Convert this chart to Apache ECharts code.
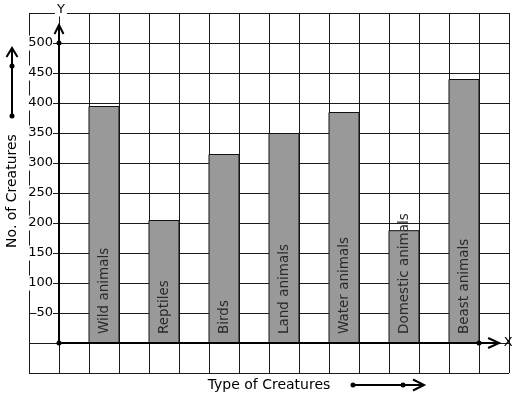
<!DOCTYPE html>
<html>
<head>
<meta charset="utf-8">
<script src="https://cdn.jsdelivr.net/npm/echarts@6/dist/echarts.min.js"></script>
<style>
html,body{margin:0;padding:0;background:#fff;}
#chart{width:517px;height:399px;}
</style>
</head>
<body>
<div id="chart"></div>
<script>
const categories = ['Wild animals', 'Reptiles', 'Birds', 'Land animals', 'Water animals', 'Domestic animals', 'Beast animals'];
const values = [395, 205, 315, 350, 385, 188, 440];
const yTickLabels = [50, 100, 150, 200, 250, 300, 350, 400, 450, 500];
const xAxisName = 'Type of Creatures';
const yAxisName = 'No. of Creatures';

const FONT = '"DejaVu Sans", sans-serif';
const chart = echarts.init(document.getElementById('chart'), null, {renderer: 'canvas'});

function renderItem(params, api) {
  const i = params.dataIndex;
  const x0 = api.value(0);
  const v = api.value(1);
  const tl = api.coord([x0, v]);
  const br = api.coord([x0 + 1, 0]);
  return {
    type: 'group',
    children: [
      {
        type: 'rect',
        shape: {x: tl[0], y: tl[1] + 0.5, width: br[0] - tl[0], height: br[1] - tl[1] - 0.5},
        style: {fill: '#999999', stroke: '#111', lineWidth: 1}
      },
      {
        type: 'text',
        x: (tl[0] + br[0]) / 2 + 0.5,
        y: br[1] - 9,
        rotation: Math.PI / 2,
        z2: 10,
        style: {text: categories[i], font: '13.5px ' + FONT, fill: '#2a2a2a', align: 'left', verticalAlign: 'middle'}
      }
    ]
  };
}

chart.setOption({
  animation: false,
  backgroundColor: '#fff',
  grid: {left: 29, top: 13, width: 480, height: 360, containLabel: false},
  xAxis: {
    type: 'value', min: -1, max: 15, interval: 1,
    axisLine: {show: false}, axisTick: {show: false}, axisLabel: {show: false},
    splitLine: {show: true, lineStyle: {color: '#1a1a1a', width: 1}}
  },
  yAxis: {
    type: 'value', min: -50, max: 550, interval: 50, offset: -30,
    axisLine: {show: false}, axisTick: {show: false},
    axisLabel: {
      show: true, margin: 6, color: '#000', fontSize: 13, fontFamily: FONT,
      backgroundColor: '#fff', padding: [1, 0],
      formatter: function (v) { return yTickLabels.indexOf(v) >= 0 ? String(v) : ''; }
    },
    splitLine: {show: true, lineStyle: {color: '#1a1a1a', width: 1}}
  },
  series: [{
    type: 'custom',
    renderItem: renderItem,
    data: values.map(function (v, i) { return [2 * i + 1, v]; }),
    encode: {x: 0, y: 1}
  }]
});

const P = function (x, y) { return chart.convertToPixel({gridIndex: 0}, [x, y]); };
const o = P(0, 0);
const yTop = P(0, 530);
const y500 = P(0, 500);
const xEnd = P(14.67, 0);
const xDot = P(14, 0);
const black = {stroke: '#000', lineWidth: 2, fill: null};
const grid = chart.getModel().getComponent('grid').coordinateSystem.getRect();
const midX = grid.x + grid.width / 2;

chart.setOption({
  graphic: [
    {type: 'line', z: 50, shape: {x1: o[0], y1: o[1], x2: o[0], y2: yTop[1]}, style: black},
    {type: 'polyline', z: 50, shape: {points: [[o[0] - 4.5, yTop[1] + 9], [o[0], yTop[1]], [o[0] + 4.5, yTop[1] + 9]]}, style: black},
    {type: 'line', z: 50, shape: {x1: o[0], y1: o[1], x2: xEnd[0], y2: o[1]}, style: black},
    {type: 'polyline', z: 50, shape: {points: [[xEnd[0] - 11, o[1] - 5], [xEnd[0], o[1]], [xEnd[0] - 11, o[1] + 5]]}, style: black},
    {type: 'circle', z: 51, shape: {cx: o[0], cy: o[1], r: 2.5}, style: {fill: '#000'}},
    {type: 'circle', z: 51, shape: {cx: y500[0], cy: y500[1], r: 2.5}, style: {fill: '#000'}},
    {type: 'circle', z: 51, shape: {cx: xDot[0], cy: xDot[1], r: 2.5}, style: {fill: '#000'}},
    {type: 'text', z: 52, x: o[0] + 2, y: grid.y - 3, style: {text: 'Y', font: '13px ' + FONT, fill: '#000', align: 'center', verticalAlign: 'middle', backgroundColor: '#fff', padding: [0, 2]}},
    {type: 'text', z: 52, x: xEnd[0] + 9, y: o[1], style: {text: 'X', font: '13px ' + FONT, fill: '#000', align: 'center', verticalAlign: 'middle'}},
    {type: 'text', z: 52, x: 12, y: 191, rotation: Math.PI / 2, style: {text: yAxisName, font: '14px ' + FONT, fill: '#000', align: 'center', verticalAlign: 'middle'}},
    {type: 'text', z: 52, x: midX, y: 385, style: {text: xAxisName, font: '14px ' + FONT, fill: '#000', align: 'center', verticalAlign: 'middle'}},
    {type: 'line', z: 50, shape: {x1: 12, y1: 116, x2: 12, y2: 49}, style: black},
    {type: 'polyline', z: 50, shape: {points: [[6.5, 57], [12, 48], [17.5, 57]]}, style: black},
    {type: 'circle', z: 51, shape: {cx: 12, cy: 116, r: 2.5}, style: {fill: '#000'}},
    {type: 'circle', z: 51, shape: {cx: 12, cy: 66, r: 2.5}, style: {fill: '#000'}},
    {type: 'line', z: 50, shape: {x1: 353, y1: 385, x2: 423, y2: 385}, style: black},
    {type: 'polyline', z: 50, shape: {points: [[413, 379.5], [424, 385], [413, 390.5]]}, style: black},
    {type: 'circle', z: 51, shape: {cx: 353, cy: 385, r: 2.5}, style: {fill: '#000'}},
    {type: 'circle', z: 51, shape: {cx: 403, cy: 385, r: 2.5}, style: {fill: '#000'}}
  ]
});
</script>
</body>
</html>
